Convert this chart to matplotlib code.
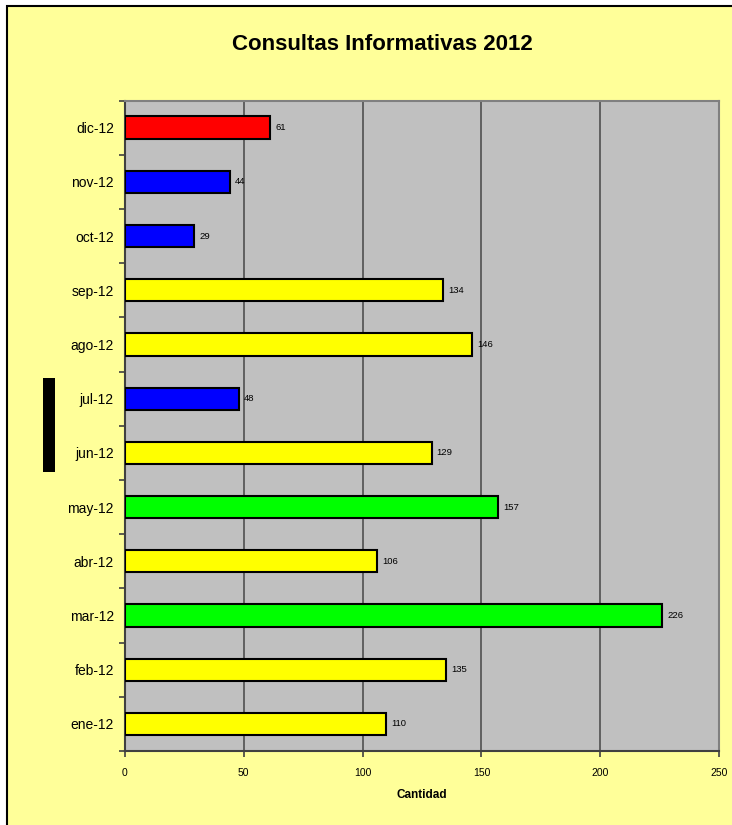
import matplotlib.pyplot as plt
from matplotlib.patches import Rectangle

plt.rcParams['font.family'] = ['Liberation Sans', 'DejaVu Sans']

meses = ['ene-12', 'feb-12', 'mar-12', 'abr-12', 'may-12', 'jun-12',
         'jul-12', 'ago-12', 'sep-12', 'oct-12', 'nov-12', 'dic-12']
consultas = [110, 135, 226, 106, 157, 129, 48, 146, 134, 29, 44, 61]
colores = ['#FFFF00', '#FFFF00', '#00FF00', '#FFFF00', '#00FF00', '#FFFF00',
           '#0000FF', '#FFFF00', '#FFFF00', '#0000FF', '#0000FF', '#FF0000']

W, H = 732, 825
fig = plt.figure(figsize=(W / 100, H / 100), dpi=100)
fig.patch.set_facecolor('white')

# chart area (yellow with black border, cut off right and bottom)
fig.patches.append(Rectangle((7 / W, -0.1), 1.2, 1.1 - 7 / H + 0.001,
                             transform=fig.transFigure, facecolor='#FFFF99',
                             edgecolor='black', linewidth=1.5, zorder=-2))
# black mark on the left
fig.patches.append(Rectangle((43 / W, 1 - 472 / H), 12 / W, 94 / H,
                             transform=fig.transFigure, facecolor='black',
                             edgecolor='none', zorder=-1))

ax = fig.add_axes([125 / W, 1 - 751 / H, (719 - 125) / W, (751 - 100.5) / H])
ax.set_facecolor('#C0C0C0')

pos = list(range(len(meses)))
ax.barh(pos, consultas, height=0.41, color=colores, edgecolor='black',
        linewidth=1.5, zorder=3)
for p, v in zip(pos, consultas):
    ax.text(v + 2.2, p, str(v), va='center', ha='left', fontsize=6.8, zorder=4)

ax.set_xlim(0, 250)
ax.set_ylim(-0.5, len(meses) - 0.5)
ax.set_xticks([0, 50, 100, 150, 200, 250])
ax.set_yticks(pos)
ax.set_yticklabels(meses)
ax.set_yticks([p - 0.5 for p in pos] + [len(meses) - 0.5], minor=True)
ax.tick_params(axis='y', which='major', length=0, pad=8, labelsize=10)
ax.tick_params(axis='y', which='minor', length=4, width=1.2, color='#404040', direction='out')
ax.tick_params(axis='x', length=4, width=1.2, color='#404040', labelsize=7.5, pad=8)
ax.xaxis.grid(True, color='#505050', linewidth=1.2, zorder=1)
ax.set_axisbelow(True)

for s in ['top', 'right']:
    ax.spines[s].set_color('#808080')
    ax.spines[s].set_linewidth(1.5)
for s in ['left', 'bottom']:
    ax.spines[s].set_color('#404040')
    ax.spines[s].set_linewidth(1.5)

ax.set_xlabel('Cantidad', fontsize=8.5, fontweight='bold', labelpad=8)
fig.text(382 / W, 1 - 44 / H, 'Consultas Informativas 2012', ha='center',
         va='center', fontsize=16, fontweight='bold')

fig.savefig('out.png', dpi=100, facecolor=fig.get_facecolor())
